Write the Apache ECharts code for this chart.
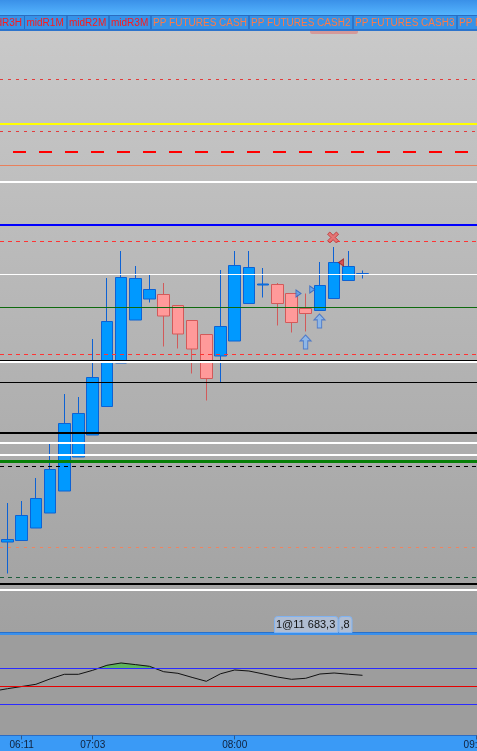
<!DOCTYPE html>
<html><head><meta charset="utf-8">
<script src="https://cdn.jsdelivr.net/npm/echarts@6/dist/echarts.min.js"></script>
<style>html,body{margin:0;padding:0;background:#a0a0a0;overflow:hidden}#c{width:477px;height:751px}</style>
</head><body><div id="c"></div>
<script>
// ---- data (bar index, prices) ----
const barIndex = [0,1,2,3,4,5,6,7,8,9,10,11,12,13,14,15,16,17,18,19,20,21,22,23,24,25];
const opens  = [11544.5,11545.25,11551.5,11559,11570,11587,11598,11612.25,11634,11655.5,11666,11668.25,11662.75,11655.25,11648.25,11637.5,11645,11663.75,11673,11673.25,11668.75,11661.25,11660.25,11666.25,11675.25,11678.75];
const closes = [11545.75,11557.75,11566.25,11580.75,11603.75,11608.75,11626.75,11654.75,11676.75,11676.25,11670.75,11657.5,11648.5,11641,11626.25,11652.25,11682.75,11681.75,11673.5,11663.75,11654.25,11658.75,11672.75,11684.25,11682.25,11678.75];
const lows   = [11528.75,11545.25,11551.5,11559,11570,11587,11598,11612.25,11634,11655.5,11664.25,11642.25,11641.25,11628.75,11615.25,11624.5,11645,11663.75,11666.75,11652.75,11649.25,11649.75,11660.25,11666.25,11675.25,11676.25];
const highs  = [11564,11565,11576.5,11593.5,11618.5,11617,11646,11676.5,11690,11682.5,11678,11674,11662.75,11655.25,11648.25,11680.5,11690,11690,11681.5,11674,11668.75,11668.75,11684.5,11692,11690,11680.25];

// horizontal price levels
const levelPrices = [11775.75,11753.5,11749.75,11739.5,11732.75,11724.5,11703,11694.75,11678.25,11661.75,11638.25,11635.25,11634.5,11624.25,11599,11594,11588,11584.75,11582.25,11541.75,11526.75,11523.5,11520.5];

// oscillator (bar index, value)
const oscIndex = [-1,0,1,2,3,4,5,6,7,8,9,10,11,12,13,14,15,16,17,18,19,20,21,22,23,24,25];
const oscValues = [-26,-12.2,0,12.2,42.2,67.8,67.8,90,117.8,130.6,121.7,112.2,82.2,73.3,50.6,28.9,70.6,91.7,86.1,70,52.8,40,45.6,69.4,75,68.3,62.2];
const oscLevels = [100,0,-100];
const oscUpper = 100;

// signals
const crossSig = [[22.93,11696.75]];
const sellTriSig = [[23.49,11684.25]];
const buyTriSig = [[20.49,11668.75],[21.46,11670.75]];
const upArrowSig = [[21.97,11655],[20.99,11644.5]];

// time axis labels
const timeLabelIdx = [1,6,16,33];
const timeLabels = ['06:11','07:03','08:00','09:00'];

// tabs
const tabNames = ['midR3H','midR1M','midR2M','midR3M','PP FUTURES CASH','PP FUTURES CASH2','PP FUTURES CASH3','PP FUTURES CASH4'];
const orderTags = ['1@11 683,3', ',8'];

// ---- styles ----
const levelStyles = [
  {color:'#e23c3c',width:1,type:[3,5]},
  {color:'#ffff00',width:2,type:'solid'},
  {color:'#e23c3c',width:1,type:[3,5]},
  {color:'#ff0000',width:2,type:[13,13],dashOffset:13},
  {color:'#e8805c',width:1,type:'solid'},
  {color:'#ffffff',width:2,type:'solid'},
  {color:'#0000ff',width:2,type:'solid'},
  {color:'#ff3333',width:1,type:[4,4]},
  {color:'#ffffff',width:1,type:'solid'},
  {color:'#0e6a0e',width:1,type:'solid'},
  {color:'#ff3333',width:1,type:[4,4]},
  {color:'#000000',width:1,type:'solid'},
  {color:'#ffffff',width:2,type:'solid'},
  {color:'#000000',width:1,type:'solid'},
  {color:'#000000',width:2,type:'solid'},
  {color:'#ffffff',width:2,type:'solid'},
  {color:'#ffffff',width:2,type:'solid'},
  {color:'#078007',width:3,type:'solid'},
  {color:'#000000',width:1,type:[4,4]},
  {color:'#f08460',width:1,type:[3,5]},
  {color:'#1d5e3c',width:1,type:[4,4]},
  {color:'#000000',width:2,type:'solid'},
  {color:'#ffffff',width:2,type:'solid'}
];
const oscLevelStyles = [
  {color:'#2b2bff',width:1,type:'solid'},
  {color:'#e60000',width:1,type:'solid'},
  {color:'#2b2bff',width:1,type:'solid'}
];

const W = 477;
const xMin = -0.528, xMax = xMin + W / 14.2;

const candleData = barIndex.map((x, i) => [x, opens[i], closes[i], lows[i], highs[i]]);
const oscData = oscIndex.map((x, i) => [x, oscValues[i]]);

const FONT = '"Liberation Sans", Arial, sans-serif';

// tabs geometry
const tabEdges = [-40, 24, 66.5, 108.5, 150.5, 248.5, 352.5, 456.5, 560];
const graphics = [];
graphics.push({type:'rect', z:-20, shape:{x:0,y:0,width:W,height:16}, style:{fill:{type:'linear',x:0,y:0,x2:0,y2:1,colorStops:[{offset:0,color:'#3a90e8'},{offset:1,color:'#56b7ff'}]}}});
graphics.push({type:'rect', z:-20, shape:{x:0,y:15,width:W,height:15}, style:{fill:'#3592e8'}});
for (let i = 0; i < tabNames.length; i++) {
  const x0 = tabEdges[i], x1 = tabEdges[i+1];
  graphics.push({type:'rect', z:-19, shape:{x:x0+0.5,y:15.5,width:x1-x0,height:14}, style:{fill:'none',stroke:'#2a6cc0',lineWidth:1}});
  const red = i < 4;
  graphics.push({type:'text', z:50, style:{text:tabNames[i], x: i===0 ? x1-2 : x0+2.5, y:23.5, textAlign: i===0?'right':'left', textVerticalAlign:'middle', font:'10px ' + FONT, fill: red ? '#ff1a1a' : '#ff7a45'}});
}
// main panel background
graphics.push({type:'rect', z:-20, shape:{x:0,y:30,width:W,height:602}, style:{fill:{type:'linear',x:0,y:0,x2:0,y2:1,colorStops:[{offset:0,color:'#c9c9c9'},{offset:1,color:'#a1a1a1'}]}}});
graphics.push({type:'rect', z:-19, shape:{x:0,y:29,width:W,height:2}, style:{fill:'#2c74cc'}});
graphics.push({type:'rect', z:-19, shape:{x:310,y:31,width:48,height:3,r:[0,0,2,2]}, style:{fill:'#d49a9a'}});
// separator & indicator background
graphics.push({type:'rect', z:-20, shape:{x:0,y:635,width:W,height:101}, style:{fill:'#9d9d9d'}});
graphics.push({type:'rect', z:-19, shape:{x:0,y:632,width:W,height:3}, style:{fill:'#3a90ec'}});
graphics.push({type:'rect', z:-19, shape:{x:0,y:632,width:W,height:1}, style:{fill:'#2a70c8'}});
// bottom bar
graphics.push({type:'rect', z:-20, shape:{x:0,y:735,width:W,height:16}, style:{fill:'#3a9af6'}});
// order tags
const tagEdges = [274, 338.5, 352.5];
for (let i = 0; i < orderTags.length; i++) {
  const x0 = tagEdges[i], x1 = tagEdges[i+1];
  graphics.push({type:'rect', z:40, shape:{x:x0+0.5,y:616.5,width:x1-x0-1,height:16,r:[3,3,0,0]}, style:{fill:'#b0bdd2',stroke:'#7fb2f2',lineWidth:1}});
  graphics.push({type:'text', z:50, style:{text:orderTags[i], x:x0+2, y:625, textAlign:'left', textVerticalAlign:'middle', font:'11px ' + FONT, fill:'#111'}});
}

// fill of the oscillator above the upper level, segment by segment
function renderOscFill(params, api) {
  const i = params.dataIndex;
  if (i >= oscData.length - 1) return null;
  const [xa, va] = oscData[i], [xb, vb] = oscData[i + 1];
  if (va <= oscUpper && vb <= oscUpper) return null;
  let x0 = xa, v0 = va, x1 = xb, v1 = vb;
  if (va < oscUpper) { x0 = xa + (xb - xa) * (oscUpper - va) / (vb - va); v0 = oscUpper; }
  if (vb < oscUpper) { x1 = xa + (xb - xa) * (oscUpper - va) / (vb - va); v1 = oscUpper; }
  const pts = [api.coord([x0, oscUpper]), api.coord([x0, v0]), api.coord([x1, v1]), api.coord([x1, oscUpper])];
  return {type:'polygon', shape:{points: pts}, style:{fill:'#5fb35f', stroke:'#5fb35f', lineWidth:0.5}};
}

const chart = echarts.init(document.getElementById('c'), null, {renderer:'canvas'});
chart.setOption({
  animation: false,
  backgroundColor: 'transparent',
  graphic: graphics,
  grid: [
    {left:0, right:0, top:31, height:600, outerBoundsMode:'none', containLabel:false},
    {left:0, right:0, top:632.5, height:103, outerBoundsMode:'none', containLabel:false}
  ],
  xAxis: [
    {type:'value', gridIndex:0, min:xMin, max:xMax, show:false},
    {type:'value', gridIndex:1, min:xMin, max:xMax, splitLine:{show:false},
     axisLine:{show:true, onZero:false, lineStyle:{color:'#2a6cc4', width:1}},
     axisTick:{show:true, length:4, customValues: timeLabelIdx, lineStyle:{color:'#2a5a90'}},
     axisLabel:{show:true, customValues: timeLabelIdx, margin:5, fontSize:10, fontFamily:FONT, color:'#10203a', hideOverlap:false,
       formatter: v => { const k = timeLabelIdx.indexOf(Math.round(v)); return k >= 0 ? timeLabels[k] : ''; }}}
  ],
  yAxis: [
    {type:'value', gridIndex:0, min:11500, max:11800, show:false},
    {type:'value', gridIndex:1, min:-272.2, max:300, show:false}
  ],
  series: [
    {type:'candlestick', xAxisIndex:0, yAxisIndex:0, z:2, barWidth:12,
     encode:{x:0, y:[1,2,3,4]}, data: candleData,
     itemStyle:{color:'#0099ff', color0:'#ff9a9a', borderColor:'#0d62d4', borderColor0:'#d25a5a', borderColorDoji:'#0d62d4', borderWidth:1}},
    {type:'line', xAxisIndex:0, yAxisIndex:0, z:3, data:[], silent:true,
     markLine:{silent:true, symbol:['none','none'], animation:false, label:{show:false},
       data: levelPrices.map((p,i) => ({yAxis:p, lineStyle:Object.assign({}, levelStyles[i])}))}},
    {type:'scatter', xAxisIndex:0, yAxisIndex:0, z:5, silent:true, data: crossSig,
     symbol:'path://M2,0 L5,3 L8,0 L10,2 L7,5 L10,8 L8,10 L5,7 L2,10 L0,8 L3,5 L0,2 Z', symbolSize:[11,11],
     itemStyle:{color:'#f06464', borderColor:'#b83030', borderWidth:1}},
    {type:'scatter', xAxisIndex:0, yAxisIndex:0, z:5, silent:true, data: sellTriSig,
     symbol:'path://M4,0 L4,6 L0,3 Z', symbolSize:[5,7],
     itemStyle:{color:'#e03a3a', borderColor:'#a02020', borderWidth:1}},
    {type:'scatter', xAxisIndex:0, yAxisIndex:0, z:5, silent:true, data: buyTriSig,
     symbol:'path://M0,0 L0,6 L4,3 Z', symbolSize:[5,7],
     itemStyle:{color:'#5aa2f0', borderColor:'#2a60c0', borderWidth:1}},
    {type:'scatter', xAxisIndex:0, yAxisIndex:0, z:5, silent:true, data: upArrowSig,
     symbol:'path://M5,0 L10,5 L7,5 L7,12 L3,12 L3,5 L0,5 Z', symbolSize:[11,14],
     itemStyle:{color:'#86b8f2', borderColor:'#3a6cc8', borderWidth:1}},
    {type:'custom', xAxisIndex:1, yAxisIndex:1, z:2, silent:true, data: oscData, renderItem: renderOscFill,
     encode:{x:0, y:1}},
    {type:'line', xAxisIndex:1, yAxisIndex:1, z:3, data: oscData, symbol:'none', silent:true,
     lineStyle:{color:'#111111', width:1},
     markLine:{silent:true, symbol:['none','none'], animation:false, label:{show:false},
       data: oscLevels.map((v,i) => ({yAxis:v, lineStyle:Object.assign({}, oscLevelStyles[i])}))}}
  ]
});
</script></body></html>
